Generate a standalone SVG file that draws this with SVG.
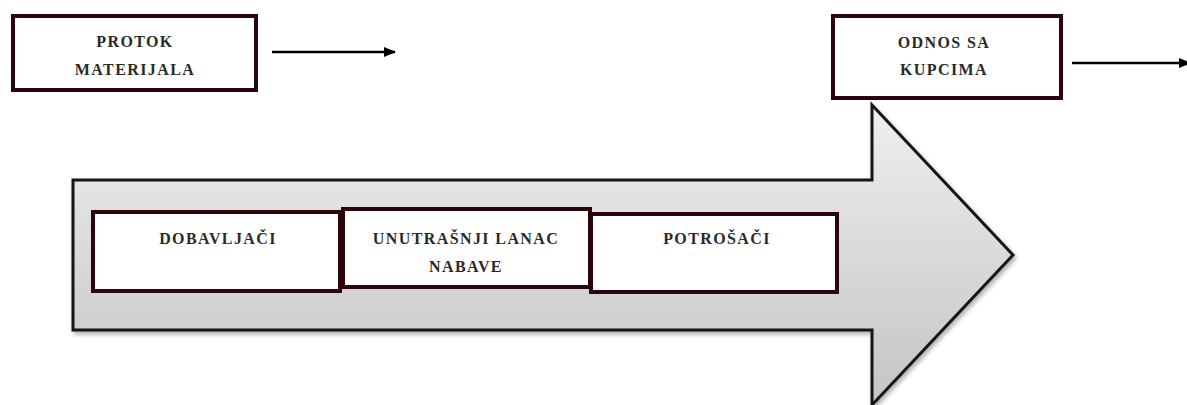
<svg xmlns="http://www.w3.org/2000/svg" width="1187" height="405" viewBox="0 0 1187 405">
<style>
.box{fill:#fff;stroke:#2a0509;stroke-width:4}
.t{font-family:"Liberation Serif","Times New Roman",serif;font-size:16px;font-weight:bold;fill:#2a2a2a;text-anchor:middle;letter-spacing:1.4px}
.ln{stroke:#000;stroke-width:2.5;fill:none}
</style>
<defs>
<linearGradient id="g" x1="0" y1="0" x2="0" y2="1">
<stop offset="0" stop-color="#efefef"/>
<stop offset="1" stop-color="#c4c4c4"/>
</linearGradient>
<marker id="ah" viewBox="0 0 10 10" refX="9" refY="5" markerWidth="5" markerHeight="5" orient="auto" markerUnits="strokeWidth">
<path d="M0,1 L10,5 L0,9 Z" fill="#000"/>
</marker>
<filter id="sh" x="-5%" y="-5%" width="110%" height="115%">
<feDropShadow dx="2" dy="3" stdDeviation="2" flood-color="#000" flood-opacity="0.3"/>
</filter>
</defs>
<rect width="1187" height="405" fill="#fff"/>
<g id="bigarrow">
<path d="M73,180 L872,180 L872,105 L1013,255 L872,405 L872,330 L73,330 Z" fill="url(#g)" stroke="#151515" stroke-width="3" filter="url(#sh)"/>
</g>
<g id="protok">
<rect class="box" x="13" y="16" width="243" height="74"/>
<text class="t" x="135" y="47">PROTOK</text>
<text class="t" x="135" y="75">MATERIJALA</text>
</g>
<g id="odnos">
<rect class="box" x="833" y="16" width="228" height="82"/>
<text class="t" x="944" y="48">ODNOS SA</text>
<text class="t" x="944" y="75">KUPCIMA</text>
</g>
<g id="dobavljaci">
<rect class="box" x="93" y="212" width="247" height="79"/>
<text class="t" x="218" y="244">DOBAVLJAČI</text>
</g>
<g id="unutrasnji">
<rect class="box" x="343" y="209" width="247" height="78"/>
<text class="t" x="466" y="244">UNUTRAŠNJI LANAC</text>
<text class="t" x="466" y="272">NABAVE</text>
</g>
<g id="potrosaci">
<rect class="box" x="591" y="214" width="246" height="78"/>
<text class="t" x="717" y="244">POTROŠAČI</text>
</g>
<g id="connectors">
<line class="ln" x1="272" y1="52" x2="395" y2="52" marker-end="url(#ah)"/>
<line class="ln" x1="1072" y1="63" x2="1190" y2="63" marker-end="url(#ah)"/>
</g>
</svg>
